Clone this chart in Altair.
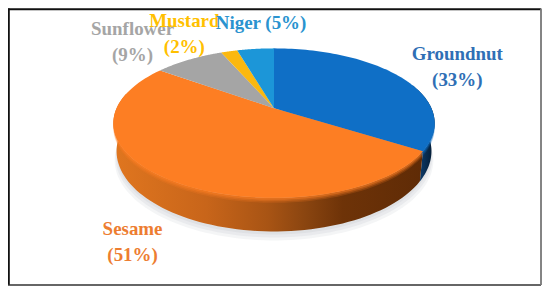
import numpy as np
import pandas as pd
import altair as alt

# values
names = ["Groundnut", "Sesame", "Sunflower", "Mustard", "Niger"]
shares = [34.0, 51.0, 8.5, 2.0, 4.5]   # drawn wedge sizes
top_colors = ["#0f6fc6", "#fd7e23", "#a5a5a5", "#fbb80f", "#1c96d8"]
label_colors = ["#2f6fb5", "#ed7d31", "#a5a5a5", "#ffc000", "#2a93cf"]
label_lines = [["Groundnut", "(33%)"], ["Sesame", "(51%)"], ["Sunflower", "(9%)"], ["Mustard", "(2%)"], ["Niger (5%)"]]
label_x = [459, 133, 133, 185, 262]
label_y = [54, 229, 29, 21, 23]
line_gap = 26
font_size = 19

# pie geometry in the picture's pixel space
CX, CY, A, B, K, DEPTH, NARROW = 275, 108, 158, 72, 0.2, 27, 0.98


def rim(t_deg, depth=0.0, narrow=1.0):
    t = np.radians(t_deg)
    u, v = np.sin(t), np.cos(t)
    den = 1 + K * v
    return CX + narrow * A * u / den, CY - B * v / den + depth * DEPTH / den


def frame(xs, ys):
    return pd.DataFrame({"x": xs, "y": ys, "i": np.arange(len(xs))})


xs = alt.Scale(domain=[8, 544], range=[0, 536])
ys = alt.Scale(domain=[288, 8], range=[280, 0])


def poly(df, fill, opacity=1.0):
    return alt.Chart(df).mark_line(
        fill=fill, stroke=None, strokeWidth=0, fillOpacity=opacity, filled=True, clip=False
    ).encode(
        x=alt.X("x:Q", scale=xs, axis=None),
        y=alt.Y("y:Q", scale=ys, axis=None),
        order="i:Q",
    )


def wedge(t0, t1, dy=0.0):
    t = np.linspace(t0, t1, 80)
    x, y = rim(t)
    return frame(np.r_[CX, x, CX], np.r_[CY + dy, y + dy, CY + dy])


def wall(t0, t1):
    t = np.linspace(t0, t1, 80)
    x, y = rim(t)
    x2, y2 = rim(t[::-1], 1.0, NARROW)
    return frame(np.r_[x, x2, x[0]], np.r_[y, y2, y[0]])


edges = np.r_[0, np.cumsum(shares)] * 3.6
layers = []

# soft ground shadow
th = np.linspace(0, 360, 180)
bx, by = rim(th, 1.0, NARROW)
for dy, sc, op in [(9, 1.012, 0.25), (6, 1.006, 0.35), (3, 1.0, 0.5)]:
    layers.append(poly(frame(CX + (bx - CX) * sc, by + dy), "#d5d8dc", op))

# side walls
orange_wall = alt.Gradient(
    gradient="linear", x1=0, x2=1, y1=0, y2=0,
    stops=[
        alt.GradientStop(color="#e0761f", offset=0),
        alt.GradientStop(color="#c8651a", offset=0.3),
        alt.GradientStop(color="#a85414", offset=0.5),
        alt.GradientStop(color="#8a4510", offset=0.62),
        alt.GradientStop(color="#6e3308", offset=0.74),
        alt.GradientStop(color="#5f2b06", offset=1),
    ],
)
blue_wall = alt.Gradient(
    gradient="linear", x1=0, x2=1, y1=0, y2=0,
    stops=[
        alt.GradientStop(color="#0a4f94", offset=0),
        alt.GradientStop(color="#0a3560", offset=0.5),
        alt.GradientStop(color="#04182c", offset=1),
    ],
)
layers.append(poly(wall(70, edges[1]), blue_wall))
layers.append(poly(wall(edges[1], 282), orange_wall))

# soft bevel under the top face
for dy, op in [(5, 0.2), (3.5, 0.3), (2, 0.45)]:
    layers.append(poly(wedge(edges[1], 282, dy), top_colors[1], op))
    layers.append(poly(wedge(70, edges[1], dy), top_colors[0], op))

# top faces
for k in range(len(shares)):
    layers.append(poly(wedge(edges[k], edges[k + 1]), top_colors[k]))

# labels
for lines, lx, ly, col in zip(label_lines, label_x, label_y, label_colors):
    tdf = pd.DataFrame({"x": lx, "y": [ly + line_gap * j for j in range(len(lines))], "t": lines})
    layers.append(
        alt.Chart(tdf).mark_text(
            font="Liberation Serif", fontWeight="bold", fontSize=font_size, color=col, align="center", baseline="middle"
        ).encode(x=alt.X("x:Q", scale=xs, axis=None), y=alt.Y("y:Q", scale=ys, axis=None), text="t:N")
    )

# picture frame
frame_sides = [
    (8, 8.8, 543, 8.8, "#111111", 2),
    (8.8, 8, 8.8, 285.5, "#111111", 2),
    (8, 285.5, 543, 285.5, "#333333", 1.6),
    (543, 8, 543, 285.5, "#777777", 1.8),
]
for x0, y0, x1, y1, col, w in frame_sides:
    layers.append(
        alt.Chart(pd.DataFrame({"x": [x0, x1], "y": [y0, y1], "i": [0, 1]})).mark_line(color=col, strokeWidth=w).encode(
            x=alt.X("x:Q", scale=xs, axis=None), y=alt.Y("y:Q", scale=ys, axis=None), order="i:Q"
        )
    )

chart = alt.layer(*layers).properties(
    width=536, height=280, padding=0, background="white",
    autosize=alt.AutoSizeParams(type="none", contains="content"),
).configure_view(stroke=None)

chart.save("out.html", embed_options={"renderer": "svg", "actions": False, "padding": 0})
